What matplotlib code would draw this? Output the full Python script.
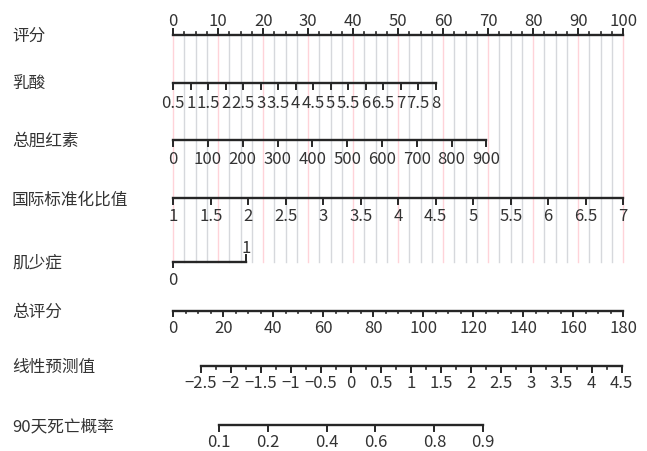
import numpy as np
import matplotlib
matplotlib.use("Agg")
import matplotlib.pyplot as plt

plt.rcParams['font.family'] = ['Noto Sans CJK SC', 'DejaVu Sans']

# ---- data ----
row_labels = ['评分', '乳酸', '总胆红素', '国际标准化比值', '肌少症', '总评分', '线性预测值', '90天死亡概率']

points_major = [0, 10, 20, 30, 40, 50, 60, 70, 80, 90, 100]
lactate_vals = [0.5, 1, 1.5, 2, 2.5, 3, 3.5, 4, 4.5, 5, 5.5, 6, 6.5, 7, 7.5, 8]
lactate_pts_range = [0.0, 58.3]          # points at 0.5 and 8
bilirubin_vals = [0, 100, 200, 300, 400, 500, 600, 700, 800, 900]
bilirubin_pts_range = [0.0, 69.6]        # points at 0 and 900
inr_vals = [1, 1.5, 2, 2.5, 3, 3.5, 4, 4.5, 5, 5.5, 6, 6.5, 7]
inr_pts_range = [0.0, 100.0]             # points at 1 and 7
sarco_vals = [0, 1]
sarco_pts = [0.0, 16.2]
total_major = [0, 20, 40, 60, 80, 100, 120, 140, 160, 180]
lp_major = [-2.5, -2, -1.5, -1, -0.5, 0, 0.5, 1, 1.5, 2, 2.5, 3, 3.5, 4, 4.5]
lp_labels = ['\u22122.5', '\u22122', '\u22121.5', '\u22121', '\u22120.5', '0', '0.5', '1', '1.5', '2',
             '2.5', '3', '3.5', '4', '4.5']
lp_intercept_total = 71.1                # total points where LP = 0
lp_total_per_unit = 24.06                # total points per LP unit
prob_vals = [0.1, 0.2, 0.4, 0.6, 0.8, 0.9]
prob_labels = ['0.1', '0.2', '0.4', '0.6', '0.8', '0.9']

# ---- scales ----
def lin(vals, vmin, vmax, p0, p1):
    v = np.asarray(vals, float)
    return p0 + (v - vmin) / (vmax - vmin) * (p1 - p0)

def total_to_x(t):
    return np.asarray(t, float) * 100.0 / 180.0

def lp_to_x(lp):
    return total_to_x(lp_intercept_total + np.asarray(lp, float) * lp_total_per_unit)

def fmt(v):
    return ('%g' % v)

W, H = 647, 451
fig = plt.figure(figsize=(W / 100, H / 100), dpi=100)
ax = fig.add_axes([0, 0, 1, 1])
x0_px, px_per_pt = 173.2, 4.5
ax.set_xlim(-x0_px / px_per_pt, (W - x0_px) / px_per_pt)
ax.set_ylim(H, 0)
ax.axis('off')

LC = '#262626'
TC = '#333333'
LW = 1.7
FS_T = 12
FS_L = 12

row_y = [34.5, 83, 140, 198.3, 261.7, 310.7, 366, 425]

# grid lines
grid_pts = np.arange(0, 100.01, 2.5)
for g in grid_pts:
    col = '#ffd3d9' if abs(g / 10 - round(g / 10)) < 1e-9 else '#d6d8dc'
    ax.plot([g, g], [35, 262], color=col, lw=1.0, zorder=1)

# row labels
for lab, y in zip(row_labels, row_y):
    ax.text(-x0_px / px_per_pt + 12 / px_per_pt, y + 6, lab, fontsize=FS_L, color=TC,
            ha='left', va='baseline')

def draw_axis(y, xs, labels, minor_xs=(), below=True, maj_len=5.5, min_len=2.5, off=23):
    xs = np.asarray(xs, float)
    d = 1 if below else -1
    ax.plot([xs.min(), xs.max()], [y, y], color=LC, lw=LW, solid_capstyle='projecting', zorder=3)
    for x in xs:
        ax.plot([x, x], [y, y + d * maj_len], color=LC, lw=1.4, zorder=3)
    for x in minor_xs:
        ax.plot([x, x], [y, y + d * min_len], color=LC, lw=1.2, zorder=3)
    if labels is not None:
        for x, l in zip(xs, labels):
            ax.text(x, y + d * off, l, fontsize=FS_T, color=TC, ha='center', va='baseline')

# points axis
pm = np.asarray(points_major, float)
pminor = [v for v in np.arange(0, 100.01, 2.5) if abs(v / 10 - round(v / 10)) > 1e-9]
draw_axis(row_y[0], pm, [fmt(v) for v in points_major], pminor, below=False, off=9)

# lactate
draw_axis(row_y[1], lin(lactate_vals, lactate_vals[0], lactate_vals[-1], *lactate_pts_range),
          [fmt(v) for v in lactate_vals], off=24.5)
# bilirubin
draw_axis(row_y[2], lin(bilirubin_vals, bilirubin_vals[0], bilirubin_vals[-1], *bilirubin_pts_range),
          [fmt(v) for v in bilirubin_vals], off=24)
# INR
draw_axis(row_y[3], lin(inr_vals, inr_vals[0], inr_vals[-1], *inr_pts_range),
          [fmt(v) for v in inr_vals], off=22.5)
# sarcopenia
ys = row_y[4]
ax.plot([sarco_pts[0], sarco_pts[1]], [ys, ys], color=LC, lw=LW, solid_capstyle='projecting', zorder=3)
ax.plot([sarco_pts[0], sarco_pts[0]], [ys, ys + 5.5], color=LC, lw=1.4, zorder=3)
ax.plot([sarco_pts[1], sarco_pts[1]], [ys, ys - 7], color=LC, lw=1.4, zorder=3)
ax.text(sarco_pts[0], ys + 23.3, fmt(sarco_vals[0]), fontsize=FS_T, color=TC, ha='center', va='baseline')
ax.text(sarco_pts[1], ys - 9, fmt(sarco_vals[1]), fontsize=FS_T, color=TC, ha='center', va='baseline')

# total points
tminor = [v for v in np.arange(0, 180.01, 5) if v % 20 != 0]
draw_axis(row_y[5], total_to_x(total_major), [fmt(v) for v in total_major], total_to_x(tminor), off=22)

# linear predictor
lminor = [v + 0.25 for v in lp_major[:-1]]
draw_axis(row_y[6], lp_to_x(lp_major), lp_labels, lp_to_x(lminor), off=22.3)

# probability
pv = np.asarray(prob_vals)
draw_axis(row_y[7], lp_to_x(np.log(pv / (1 - pv))), prob_labels, off=22)

fig.savefig('out.png', dpi=100, facecolor='white')
